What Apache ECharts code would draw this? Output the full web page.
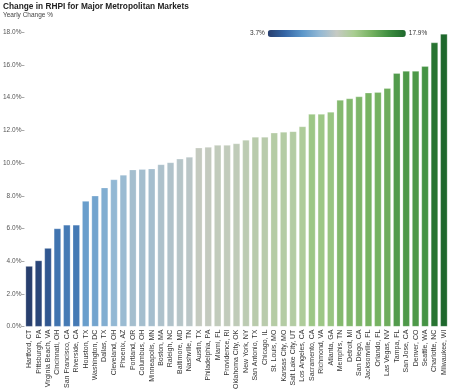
<!DOCTYPE html>
<html>
<head>
<meta charset="utf-8">
<script src="https://cdn.jsdelivr.net/npm/echarts@6/dist/echarts.min.js"></script>
<style>html,body{margin:0;padding:0;background:#fff}#c{width:450px;height:392px}</style>
</head>
<body>
<div id="c"></div>
<script>
var categories = ["Hartford, CT","Pittsburgh, PA","Virginia Beach, VA","Cincinnati, OH","San Francisco, CA","Riverside, CA","Houston, TX","Washington, DC","Dallas, TX","Cleveland, OH","Phoenix, AZ","Portland, OR","Columbus, OH","Minneapolis, MN","Boston, MA","Raleigh, NC","Baltimore, MD","Nashville, TN","Austin, TX","Philadelphia, PA","Miami, FL","Providence, RI","Oklahoma City, OK","New York, NY","San Antonio, TX","Chicago, IL","St. Louis, MO","Kansas City, MO","Salt Lake City, UT","Los Angeles, CA","Sacramento, CA","Richmond, VA","Atlanta, GA","Memphis, TN","Detroit, MI","San Diego, CA","Jacksonville, FL","Orlando, FL","Las Vegas, NV","Tampa, FL","San Jose, CA","Denver, CO","Seattle, WA","Charlotte, NC","Milwaukee, WI"];
var values = [3.7,4.04,4.8,6.0,6.22,6.22,7.68,8.0,8.5,9.0,9.28,9.6,9.63,9.66,9.92,10.04,10.26,10.38,10.94,10.98,11.1,11.1,11.2,11.42,11.6,11.6,11.85,11.91,11.94,12.24,13.0,13.0,13.13,13.86,13.95,14.07,14.3,14.34,14.58,15.5,15.63,15.63,15.92,17.37,17.9];
var yTicks = [0,2,4,6,8,10,12,14,16,18];
var colorMin = 3.7, colorMax = 17.9;
var palette = ['#283f6e','#3566a6','#5b96c9','#93b8d4','#c6cac3','#a9cd91','#76b261','#3f8f40','#1e682c'];

var font = 'Liberation Sans, Arial, sans-serif';
var chart = echarts.init(document.getElementById('c'), null, {renderer:'canvas'});
chart.setOption({
  animation:false,
  textStyle:{fontFamily:font},
  title:{
    text:'Change in RHPI for Major Metropolitan Markets',
    subtext:'Yearly Change %',
    left:1, top:2, itemGap:1, padding:[1,2,1,2],
    textStyle:{fontSize:8.3, fontWeight:'bold', color:'#222', fontFamily:font},
    subtextStyle:{fontSize:6.5, color:'#444', fontFamily:font}
  },
  visualMap:{
    type:'continuous', min:colorMin, max:colorMax, orient:'horizontal',
    left:250, top:30, itemWidth:7, itemHeight:138, calculable:false,
    text:['17.9%','3.7%'], textGap:3, padding:0,
    textStyle:{fontSize:6.5, color:'#333', fontFamily:font},
    seriesIndex:0, dimension:1,
    inRange:{color:palette}
  },
  grid:{left:23.8, right:1.4, top:32.3, bottom:59.7, containLabel:false},
  xAxis:{
    type:'category', data:categories,
    axisLine:{show:false},
    axisTick:{show:false},
    axisLabel:{rotate:90, interval:0, fontSize:7, color:'#333', margin:3, fontFamily:font}
  },
  yAxis:{
    type:'value', min:0, max:18, interval:2,
    axisLine:{show:false},
    axisTick:{show:true, length:3, lineStyle:{color:'#aaa'}},
    splitLine:{show:false},
    axisLabel:{fontSize:6.5, color:'#555', margin:3, fontFamily:font, formatter:function(v){return v.toFixed(1)+'%';}}
  },
  series:[{
    type:'bar', data:values, barCategoryGap:'25%',
    itemStyle:{borderColor:'rgba(255,255,255,0.5)', borderWidth:0.5}
  }]
});
</script>
</body>
</html>
